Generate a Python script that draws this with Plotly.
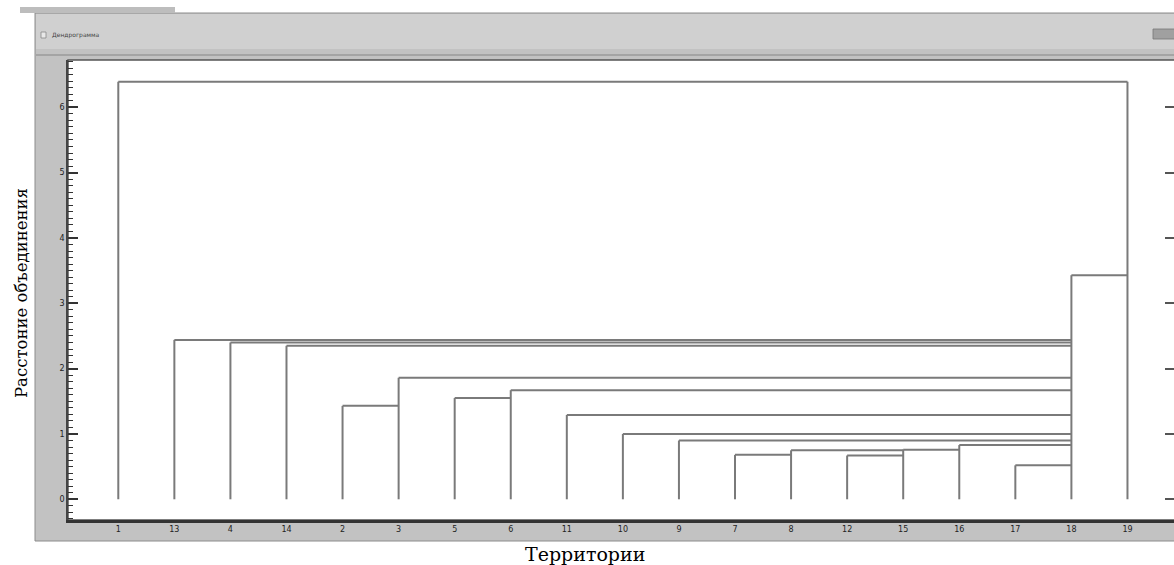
import plotly.graph_objects as go

# ---------------- data ----------------
leaves = ["1", "13", "4", "14", "2", "3", "5", "6", "11", "10",
          "9", "7", "8", "12", "15", "16", "17", "18", "19"]
merge_left = ["7", "12", "8", "15", "17", "16", "9", "10", "11", "5",
              "6", "2", "3", "14", "4", "13", "18", "1"]
merge_right = ["8", "15", "15", "16", "18", "18", "18", "18", "18", "6",
               "18", "3", "18", "18", "18", "18", "19", "19"]
merge_height = [0.68, 0.67, 0.75, 0.76, 0.52, 0.83, 0.90, 1.00, 1.29, 1.55,
                1.67, 1.43, 1.86, 2.35, 2.40, 2.44, 3.43, 6.39]
y_ticks = [0, 1, 2, 3, 4, 5, 6]

# ---------------- geometry helpers (pixels -> paper) ----------------
W, H = 1174, 565
ML, MR, MT, MB = 68, 0, 60, 45
PW = W - ML - MR
PH = H - MT - MB
Y_RANGE = [-0.317, 6.724]


def px(x):
    return (x - ML) / PW


def py(y):
    return (H - MB - y) / PH


pos = {name: i for i, name in enumerate(leaves)}
top = {name: 0.0 for name in leaves}
for l, r, h in zip(merge_left, merge_right, merge_height):
    top[l] = max(top[l], h)
    top[r] = max(top[r], h)

xs, ys = [], []
# verticals
for name in leaves:
    xs += [pos[name], pos[name], None]
    ys += [0, top[name], None]
# horizontals
for l, r, h in zip(merge_left, merge_right, merge_height):
    xs += [pos[l], pos[r], None]
    ys += [h, h, None]

fig = go.Figure()
fig.add_trace(go.Scatter(x=xs, y=ys, mode="lines",
                         line=dict(color="#7a7a7a", width=2),
                         hoverinfo="skip", showlegend=False))
# invisible trace to activate the right-hand tick axis
fig.add_trace(go.Scatter(x=[None], y=[None], yaxis="y2", mode="lines",
                         hoverinfo="skip", showlegend=False))

shapes = [
    # window frame
    dict(type="rect", xref="paper", yref="paper", layer="below",
         x0=px(35), x1=px(1180), y0=py(541), y1=py(13),
         fillcolor="#c2c2c2", line=dict(color="#8c8c8c", width=1)),
    # title bar
    dict(type="rect", xref="paper", yref="paper", layer="below",
         x0=px(36), x1=px(1180), y0=py(49), y1=py(14),
         fillcolor="#d0d0d0", line=dict(width=0)),
    dict(type="line", xref="paper", yref="paper", layer="below",
         x0=px(36), x1=px(1180), y0=py(55), y1=py(55),
         line=dict(color="#9a9a9a", width=1.5)),
    # plot area
    dict(type="rect", xref="paper", yref="paper", layer="below",
         x0=px(68), x1=px(1180), y0=py(520), y1=py(60),
         fillcolor="white", line=dict(color="#555555", width=1.5)),
    # title bar icon
    dict(type="rect", xref="paper", yref="paper", layer="below",
         x0=px(41), x1=px(46), y0=py(38), y1=py(32),
         fillcolor="#e8e8e8", line=dict(color="#888888", width=0.8)),
    # close/minimise button
    dict(type="rect", xref="paper", yref="paper", layer="below",
         x0=px(1153), x1=px(1180), y0=py(39), y1=py(29),
         fillcolor="#a0a0a0", line=dict(color="#777777", width=0.8)),
    # toolbar remnants at the very top
    dict(type="rect", xref="paper", yref="paper", layer="below",
         x0=px(20), x1=px(175), y0=py(13), y1=py(7),
         fillcolor="#bdbdbd", line=dict(width=0)),
]

annotations = [
    dict(text="Дендрограмма", xref="paper", yref="paper",
         x=px(50), y=py(35), xanchor="left", yanchor="middle",
         showarrow=False, font=dict(size=6, color="#444444",
                                    family="DejaVu Sans")),
    dict(text="Расстоние объединения", xref="paper", yref="paper",
         x=px(21), y=py(293), xanchor="center", yanchor="middle",
         textangle=-90, showarrow=False,
         font=dict(size=16.5, color="black", family="DejaVu Serif")),
    dict(text="Территории", xref="paper", yref="paper",
         x=px(585), y=py(554), xanchor="center", yanchor="middle",
         showarrow=False,
         font=dict(size=19, color="black", family="DejaVu Serif")),
]

fig.update_layout(
    width=W, height=H,
    margin=dict(l=ML, r=MR, t=MT, b=MB),
    paper_bgcolor="white", plot_bgcolor="rgba(0,0,0,0)",
    shapes=shapes, annotations=annotations,
    showlegend=False,
    yaxis2=dict(overlaying="y", side="right", range=Y_RANGE,
                tickmode="array", tickvals=y_ticks, showticklabels=False,
                ticks="inside", ticklen=9, tickwidth=1.5,
                tickcolor="#555555", showgrid=False, zeroline=False,
                showline=False),
)

fig.update_xaxes(
    range=[-0.897, 18.83],
    tickmode="array", tickvals=list(range(len(leaves))), ticktext=leaves,
    ticks="", showgrid=False, zeroline=False,
    showline=True, linecolor="#333333", linewidth=2.5,
    tickfont=dict(size=8, color="#222222", family="DejaVu Sans"),
)
fig.update_yaxes(
    selector=dict(anchor="x"),
)
fig.layout.yaxis.update(
    range=Y_RANGE,
    tickmode="array", tickvals=y_ticks, ticktext=[str(v) for v in y_ticks],
    ticks="inside", ticklen=10, tickwidth=1.5, tickcolor="#333333",
    minor=dict(ticks="inside", ticklen=5, tickwidth=1.2,
               tickcolor="#333333", dtick=0.1, tick0=0, showgrid=False),
    showgrid=False, zeroline=False,
    showline=True, linecolor="#444444", linewidth=1.5,
    tickfont=dict(size=8, color="#222222", family="DejaVu Sans"),
)

fig.write_html("out.html",
               config={"displayModeBar": False},
               post_script="document.body.style.margin='0';"
                           "document.body.style.overflow='hidden';")
